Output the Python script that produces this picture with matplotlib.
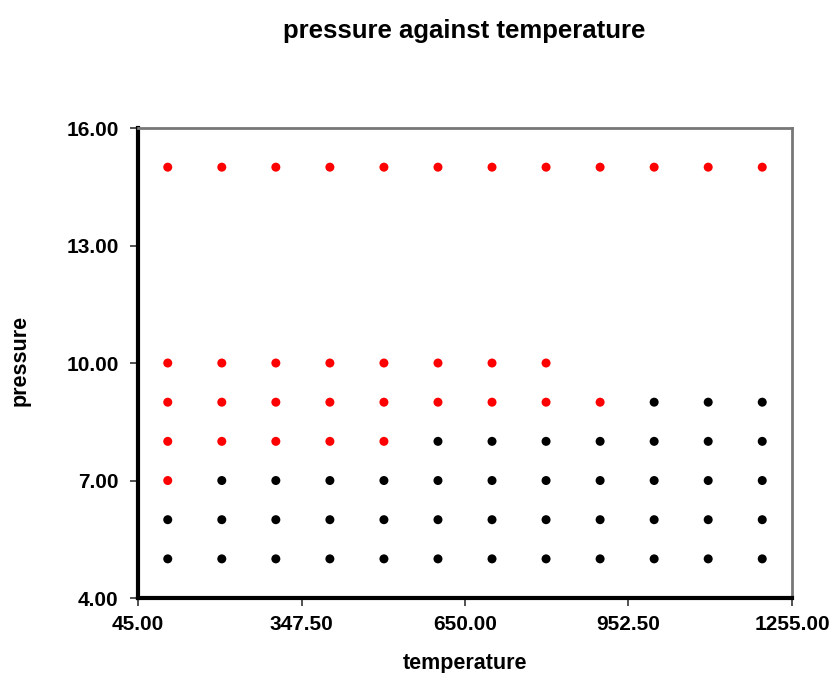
import matplotlib
matplotlib.use("Agg")
import matplotlib.pyplot as plt

plt.rcParams['font.family'] = ['Liberation Sans', 'DejaVu Sans']

temperatures = [100, 200, 300, 400, 500, 600, 700, 800, 900, 1000, 1100, 1200]
pressures = [5, 6, 7, 8, 9, 10, 15]
# number of red (leading) points per pressure row, and number of points in the row
red_counts = {5: 0, 6: 0, 7: 1, 8: 5, 9: 9, 10: 8, 15: 12}
row_lengths = {5: 12, 6: 12, 7: 12, 8: 12, 9: 12, 10: 8, 15: 12}

xticks = [45.0, 347.5, 650.0, 952.5, 1255.0]
yticks = [4.0, 7.0, 10.0, 13.0, 16.0]

fig = plt.figure(figsize=(8.34, 6.73), dpi=100)
ax = fig.add_axes([0.1655, 0.1114, 0.7841, 0.6984])

for p in pressures:
    n = row_lengths[p]
    r = red_counts[p]
    xs = temperatures[:n]
    cols = ['#ff0000'] * r + ['#000000'] * (n - r)
    ax.scatter(xs, [p] * n, s=42, c=cols, edgecolors='none', zorder=3, clip_on=False)

ax.set_xlim(45, 1255)
ax.set_ylim(4, 16)
ax.set_xticks(xticks)
ax.set_yticks(yticks)
ax.set_xticklabels([f"{v:.2f}" for v in xticks])
ax.set_yticklabels([f"{v:.2f}" for v in yticks])

for lab in ax.get_xticklabels() + ax.get_yticklabels():
    lab.set_fontweight('bold')
    lab.set_fontsize(15)

ax.tick_params(axis='x', direction='out', length=6, width=1.2, color='#333333', pad=6)
ax.tick_params(axis='y', direction='out', length=6, width=1.2, color='#333333', pad=8)

ax.spines['left'].set_linewidth(3)
ax.spines['left'].set_color('black')
ax.spines['bottom'].set_linewidth(3)
ax.spines['bottom'].set_color('black')
ax.spines['top'].set_linewidth(2)
ax.spines['top'].set_color('#777777')
ax.spines['right'].set_linewidth(2)
ax.spines['right'].set_color('#777777')

ax.set_xlabel('temperature', fontsize=15.5, fontweight='bold', labelpad=14)
ax.set_ylabel('pressure', fontsize=15.5, fontweight='bold')
ax.yaxis.set_label_coords(-0.164, 0.505)
fig.suptitle('pressure against temperature', fontsize=18.5, fontweight='bold', x=0.557, y=0.972)

fig.savefig('out.png', dpi=100, facecolor='white')
